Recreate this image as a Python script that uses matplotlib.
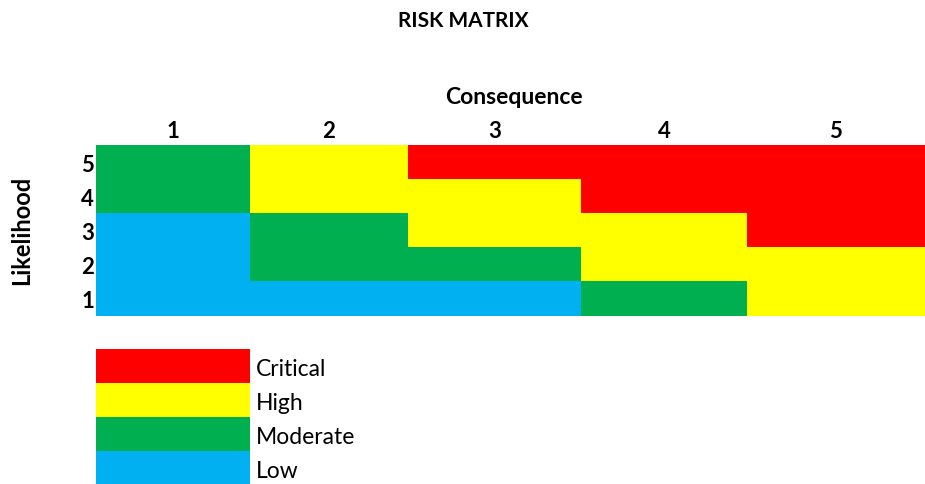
import numpy as np
import matplotlib.pyplot as plt
from matplotlib.colors import ListedColormap

plt.rcParams['font.family'] = ['Lato', 'DejaVu Sans']

# Risk levels: 0 = Low, 1 = Moderate, 2 = High, 3 = Critical
levels = ["Low", "Moderate", "High", "Critical"]
level_colors = ["#00B0F0", "#00B050", "#FFFF00", "#FF0000"]
consequence = [1, 2, 3, 4, 5]
likelihood = [5, 4, 3, 2, 1]
# rows are likelihood 5 (top) down to 1, columns consequence 1..5
risk = np.array([
    [1, 2, 3, 3, 3],
    [1, 2, 2, 3, 3],
    [0, 1, 2, 2, 3],
    [0, 1, 1, 2, 2],
    [0, 0, 0, 1, 2],
])

# layout in pixels (figure is 925 x 484)
col_edges = np.array([96, 250, 408, 581, 747, 925])
row_edges = np.array([145, 179, 213, 247, 281, 316])
leg_x = np.array([96, 250])
leg_y = np.array([349, 383, 417, 451, 485])

cmap = ListedColormap(level_colors)

fig = plt.figure(figsize=(9.25, 4.84), dpi=100)
ax = fig.add_axes([0, 0, 1, 1])
ax.set_xlim(0, 925)
ax.set_ylim(484, 0)
ax.axis("off")

ax.pcolormesh(col_edges, row_edges, risk, cmap=cmap, vmin=-0.5, vmax=3.5)

# legend, top to bottom: Critical .. Low
leg_vals = np.arange(len(levels))[::-1].reshape(-1, 1)
ax.pcolormesh(leg_x, leg_y, leg_vals, cmap=cmap, vmin=-0.5, vmax=3.5)
for i, v in enumerate(leg_vals[:, 0]):
    ax.text(256, (leg_y[i] + leg_y[i + 1]) / 2 + 3, levels[v], fontsize=16.5,
            ha="left", va="center")

ax.text(463, 21, "RISK MATRIX", fontsize=15, fontweight="bold",
        ha="center", va="center")
ax.text(514, 98, "Consequence", fontsize=16.5, fontweight="bold",
        ha="center", va="center")
for j, c in enumerate(consequence):
    ax.text((col_edges[j] + col_edges[j + 1]) / 2, 132, str(c), fontsize=16,
            fontweight="bold", ha="center", va="center")
for i, l in enumerate(likelihood):
    ax.text(94, (row_edges[i] + row_edges[i + 1]) / 2 + 3, str(l), fontsize=16,
            fontweight="bold", ha="right", va="center")
ax.text(22, 230, "Likelihood", fontsize=17, fontweight="bold", rotation=90,
        ha="center", va="center")

fig.savefig("out.png", dpi=100)
